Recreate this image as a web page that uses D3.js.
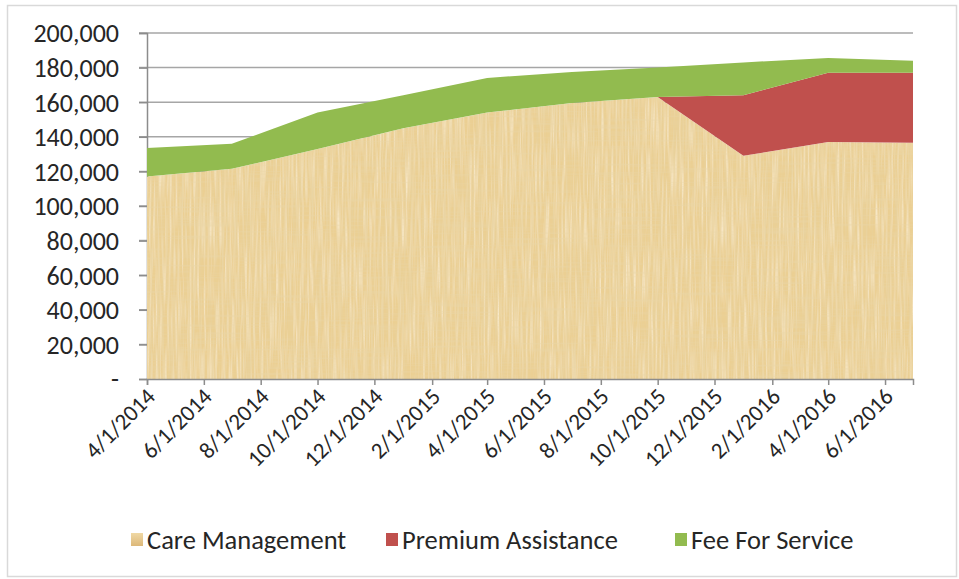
<!DOCTYPE html>
<html>
<head>
<meta charset="utf-8">
<script src="https://cdn.jsdelivr.net/npm/d3@7/dist/d3.min.js"></script>
<style>
  html, body { margin: 0; padding: 0; background: #fff; }
  svg text { font-family: Carlito, Calibri, Lato, sans-serif; fill: #262626; }
</style>
</head>
<body>
<svg id="chart" width="959" height="579"></svg>
<script>
// ---- data ----
const dates = ["2014-04-01","2014-07-01","2014-10-01","2015-01-01","2015-04-01",
               "2015-07-01","2015-10-01","2016-01-01","2016-04-01","2016-07-01"];
const careManagement     = [117000,121500,133000,145000,154000,159500,163000,129000,137000,136500];
const premiumAssistance  = [0,0,0,0,0,0,0,35000,40000,40500];
const feeForService      = [16500,14500,21000,19000,20000,18000,17000,19000,8500,7000];
const seriesNames = ["Care Management","Premium Assistance","Fee For Service"];
const seriesColors = ["#ebcf93","#c0504d","#92bb4f"];
const xTickLabels = ["4/1/2014","6/1/2014","8/1/2014","10/1/2014","12/1/2014","2/1/2015",
                     "4/1/2015","6/1/2015","8/1/2015","10/1/2015","12/1/2015","2/1/2016",
                     "4/1/2016","6/1/2016"];
const yTicks = [0,20000,40000,60000,80000,100000,120000,140000,160000,180000,200000];

// ---- build table ----
const parse = d3.timeParse("%Y-%m-%d");
const parseTick = d3.timeParse("%m/%d/%Y");
const table = dates.map((d, i) => ({
  date: parse(d),
  "Care Management": careManagement[i],
  "Premium Assistance": premiumAssistance[i],
  "Fee For Service": feeForService[i]
}));

const svg = d3.select("#chart");

// outer frame
svg.append("rect").attr("x", 7.5).attr("y", 5.5).attr("width", 949).attr("height", 571)
  .attr("fill", "#fff").attr("stroke", "#d9d9d9").attr("stroke-width", 1.5);

const x = d3.scaleTime().domain([parse(dates[0]), parse(dates[dates.length-1])]).range([147, 913]);
const y = d3.scaleLinear().domain([0, 200000]).range([379, 33]);

// defs: papyrus texture
const defs = svg.append("defs");
const f = defs.append("filter").attr("id", "papyrus")
  .attr("x", 0).attr("y", 0).attr("width", 1).attr("height", 1);
f.append("feTurbulence").attr("type", "fractalNoise").attr("baseFrequency", "0.45 0.012")
  .attr("numOctaves", 3).attr("seed", 4).attr("result", "nv");
f.append("feColorMatrix").attr("in", "nv").attr("type", "matrix")
  .attr("values", "0 0 0 0 0.80  0 0 0 0 0.64  0 0 0 0 0.34  1.6 0 0 0 -0.62").attr("result", "v");
f.append("feTurbulence").attr("type", "fractalNoise").attr("baseFrequency", "0.012 0.45")
  .attr("numOctaves", 3).attr("seed", 9).attr("result", "nh");
f.append("feColorMatrix").attr("in", "nh").attr("type", "matrix")
  .attr("values", "0 0 0 0 0.82  0 0 0 0 0.67  0 0 0 0 0.38  1.3 0 0 0 -0.55").attr("result", "h");
f.append("feTurbulence").attr("type", "fractalNoise").attr("baseFrequency", "0.5 0.02")
  .attr("numOctaves", 2).attr("seed", 13).attr("result", "nl");
f.append("feColorMatrix").attr("in", "nl").attr("type", "matrix")
  .attr("values", "0 0 0 0 0.98  0 0 0 0 0.90  0 0 0 0 0.72  1.4 0 0 0 -0.58").attr("result", "l");
const fm = f.append("feMerge").attr("result", "m");
fm.append("feMergeNode").attr("in", "SourceGraphic");
fm.append("feMergeNode").attr("in", "l");
fm.append("feMergeNode").attr("in", "v");
fm.append("feMergeNode").attr("in", "h");
f.append("feComposite").attr("in", "m").attr("in2", "SourceGraphic").attr("operator", "in");

const lg = defs.append("linearGradient").attr("id", "legTan").attr("x1", 0).attr("y1", 0).attr("x2", 0).attr("y2", 1);
lg.append("stop").attr("offset", "0%").attr("stop-color", "#f0d8a4");
lg.append("stop").attr("offset", "100%").attr("stop-color", "#dcb879");

// gridlines
svg.append("g").selectAll("line").data(yTicks.filter(v => v > 0)).join("line")
  .attr("x1", 139).attr("x2", 913)
  .attr("y1", d => y(d)).attr("y2", d => y(d))
  .attr("stroke", "#a6a6a6").attr("stroke-width", 1.5);

// y axis
const yAxis = d3.axisLeft(y).tickValues(yTicks).tickSize(8).tickPadding(20)
  .tickFormat(d => d === 0 ? "-" : d3.format(",")(d));
const yg = svg.append("g").attr("transform", "translate(147,0)").call(yAxis);
yg.selectAll("text").style("font-size", "26px").attr("dy", "0.34em").attr("fill", "#262626");
yg.selectAll("line").attr("stroke", "#8c8c8c").attr("stroke-width", 1.5);
yg.select(".domain").attr("stroke", "#8c8c8c").attr("stroke-width", 1.5);

// stacked areas
const stack = d3.stack().keys(seriesNames);
const layers = stack(table);
const area = d3.area().x(d => x(d.data.date)).y0(d => y(d[0])).y1(d => y(d[1]));
svg.append("g").selectAll("path").data(layers).join("path")
  .attr("d", area)
  .attr("fill", (d, i) => seriesColors[i])
  .attr("filter", (d, i) => i === 0 ? "url(#papyrus)" : null);

// x axis
const xTickDates = xTickLabels.map(s => parseTick(s));
const xAxis = d3.axisBottom(x).tickValues(xTickDates).tickSize(6).tickFormat("");
const xg = svg.append("g").attr("transform", "translate(0,379)").call(xAxis);
xg.selectAll("line").attr("stroke", "#8c8c8c").attr("stroke-width", 1.5);
xg.select(".domain").attr("stroke", "#8c8c8c").attr("stroke-width", 1.5);

xg.selectAll(".tick").data(xTickDates).append("text")
  .text((d, i) => xTickLabels[i])
  .attr("text-anchor", "end")
  .attr("transform", "translate(9,19) rotate(-45)")
  .style("font-size", "23px");

// legend
const legendX = [131, 386, 675];
const leg = svg.append("g").selectAll("g").data(seriesNames).join("g")
  .attr("transform", (d, i) => `translate(${legendX[i]},0)`);
leg.append("rect").attr("x", 0).attr("y", 533).attr("width", 12).attr("height", 13)
  .attr("fill", (d, i) => i === 0 ? "url(#legTan)" : seriesColors[i]);
leg.append("text").attr("x", 16).attr("y", 549).text(d => d).style("font-size", "26.5px");
</script>
</body>
</html>
